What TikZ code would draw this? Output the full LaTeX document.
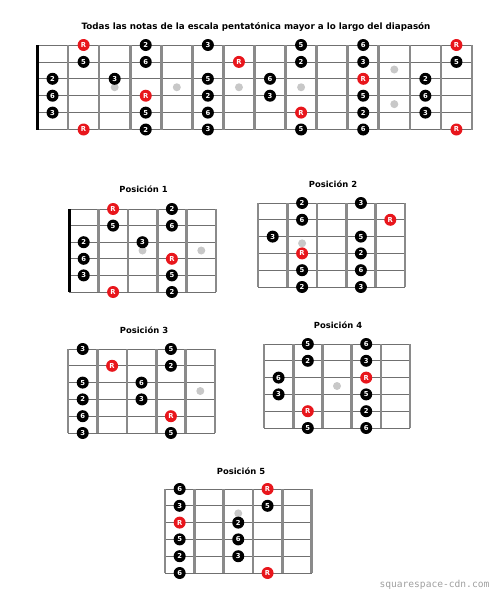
\documentclass[tikz,border=0pt]{standalone}
\usepackage{fontspec}
\setmainfont{DejaVu Sans}
\setmonofont{DejaVu Sans Mono}
\usepackage{tikz}
\usepackage{xcolor}
\usetikzlibrary{positioning}

\definecolor{rootred}{RGB}{232,22,28}
\definecolor{fretgray}{RGB}{138,138,138}
\definecolor{stringgray}{RGB}{112,112,112}
\definecolor{inlaygray}{RGB}{200,200,200}

\tikzset{
  note/.style={circle, fill=black, text=white, inner sep=0pt, minimum size=12pt,
    font=\bfseries\fontsize{6.8}{7}\selectfont},
  root/.style={note, fill=rootred},
  inlay/.style={circle, fill=inlaygray, inner sep=0pt, minimum size=8pt},
  fretbar/.style={fretgray, line width=2.6pt},
  stringline/.style={stringgray, line width=0.8pt},
  nutbar/.style={black, line width=3pt},
  boardtitle/.style={anchor=base, font=\bfseries\fontsize{8.4}{9}\selectfont},
  maintitle/.style={anchor=base, font=\bfseries\fontsize{8.75}{10}\selectfont}
}

% strings and frets of one board, #1 = number of frets
\newcommand{\drawboard}[1]{%
  \foreach \s in {0,...,5} \draw[stringline] (0,\s) -- (#1,\s);
  \foreach \f in {0,...,#1} \draw[fretbar] (\f,0) -- (\f,5);
}

\begin{document}
\begin{tikzpicture}[x=1pt, y=-1pt]
  \useasboundingbox (0,0) rectangle (501,600);

  \node[maintitle] (title) at (256,29) {Todas las notas de la escala pentatónica mayor a lo largo del diapasón};

  % whole neck
  \begin{scope}[xshift=37pt, yshift=-45pt, x=31.07pt, y=-16.9pt]
    \drawboard{14}
    \draw[nutbar] (0,0) -- (0,5);
    \foreach \k/\s in {2/2.5, 4/2.5, 6/2.5, 8/2.5, 11/1.45, 11/3.5}
      \node[inlay] (all-dot-\k-\s) at (\k+0.5,\s) {};
    \foreach \s/\k in {0/1, 0/13, 1/6, 2/10, 3/3, 4/8, 5/1, 5/13}
      \node[root] (all-\s-\k) at (\k+0.5,\s) {R};
    \foreach \s/\k/\t in {0/3/2, 0/5/3, 0/8/5, 0/10/6,
                         1/1/5, 1/3/6, 1/8/2, 1/10/3, 1/13/5,
                         2/0/2, 2/2/3, 2/5/5, 2/7/6, 2/12/2,
                         3/0/6, 3/5/2, 3/7/3, 3/10/5, 3/12/6,
                         4/0/3, 4/3/5, 4/5/6, 4/10/2, 4/12/3,
                         5/3/2, 5/5/3, 5/8/5, 5/10/6}
      \node[note] (all-\s-\k) at (\k+0.5,\s) {\t};
  \end{scope}

  % posicion 1
  \node[boardtitle] (title1) at (143.5,192) {Posición 1};
  \begin{scope}[xshift=69pt, yshift=-209pt, x=29.4pt, y=-16.6pt]
    \drawboard{5}
    \draw[nutbar] (0,0) -- (0,5);
    \foreach \k in {2,4} \node[inlay] (p1-dot-\k) at (\k+0.5,2.5) {};
    \foreach \s/\k in {0/1, 3/3, 5/1}
      \node[root] (p1-\s-\k) at (\k+0.5,\s) {R};
    \foreach \s/\k/\t in {0/3/2, 1/1/5, 1/3/6, 2/0/2, 2/2/3,
                         3/0/6, 4/0/3, 4/3/5, 5/3/2}
      \node[note] (p1-\s-\k) at (\k+0.5,\s) {\t};
  \end{scope}

  % posicion 2
  \node[boardtitle] (title2) at (333,187) {Posición 2};
  \begin{scope}[xshift=258pt, yshift=-203pt, x=29.4pt, y=-16.8pt]
    \drawboard{5}
    \node[inlay] (p2-dot) at (1.5,2.4) {};
    \foreach \s/\k in {1/4, 3/1}
      \node[root] (p2-\s-\k) at (\k+0.5,\s) {R};
    \foreach \s/\k/\t in {0/1/2, 0/3/3, 1/1/6, 2/0/3, 2/3/5,
                         3/3/2, 4/1/5, 4/3/6, 5/1/2, 5/3/3}
      \node[note] (p2-\s-\k) at (\k+0.5,\s) {\t};
  \end{scope}

  % posicion 3
  \node[boardtitle] (title3) at (144,333) {Posición 3};
  \begin{scope}[xshift=68pt, yshift=-349pt, x=29.4pt, y=-16.8pt]
    \drawboard{5}
    \node[inlay] (p3-dot) at (4.5,2.5) {};
    \foreach \s/\k in {1/1, 4/3}
      \node[root] (p3-\s-\k) at (\k+0.5,\s) {R};
    \foreach \s/\k/\t in {0/0/3, 0/3/5, 1/3/2, 2/0/5, 2/2/6,
                         3/0/2, 3/2/3, 4/0/6, 5/0/3, 5/3/5}
      \node[note] (p3-\s-\k) at (\k+0.5,\s) {\t};
  \end{scope}

  % posicion 4
  \node[boardtitle] (title4) at (338,328) {Posición 4};
  \begin{scope}[xshift=264pt, yshift=-344pt, x=29.2pt, y=-16.8pt]
    \drawboard{5}
    \node[inlay] (p4-dot) at (2.5,2.5) {};
    \foreach \s/\k in {2/3, 4/1}
      \node[root] (p4-\s-\k) at (\k+0.5,\s) {R};
    \foreach \s/\k/\t in {0/1/5, 0/3/6, 1/1/2, 1/3/3, 2/0/6,
                         3/0/3, 3/3/5, 4/3/2, 5/1/5, 5/3/6}
      \node[note] (p4-\s-\k) at (\k+0.5,\s) {\t};
  \end{scope}

  % posicion 5
  \node[boardtitle] (title5) at (241,474) {Posición 5};
  \begin{scope}[xshift=165pt, yshift=-489pt, x=29.3pt, y=-16.8pt]
    \drawboard{5}
    \node[inlay] (p5-dot) at (2.5,1.45) {};
    \foreach \s/\k in {0/3, 2/0, 5/3}
      \node[root] (p5-\s-\k) at (\k+0.5,\s) {R};
    \foreach \s/\k/\t in {0/0/6, 1/0/3, 1/3/5, 2/2/2, 3/0/5,
                         3/2/6, 4/0/2, 4/2/3, 5/0/6}
      \node[note] (p5-\s-\k) at (\k+0.5,\s) {\t};
  \end{scope}

  \node[anchor=base west, text=gray!75, font=\ttfamily\fontsize{9.6}{10}\selectfont]
    (source) at (376,587) {squarespace-cdn.com};
\end{tikzpicture}
\end{document}
